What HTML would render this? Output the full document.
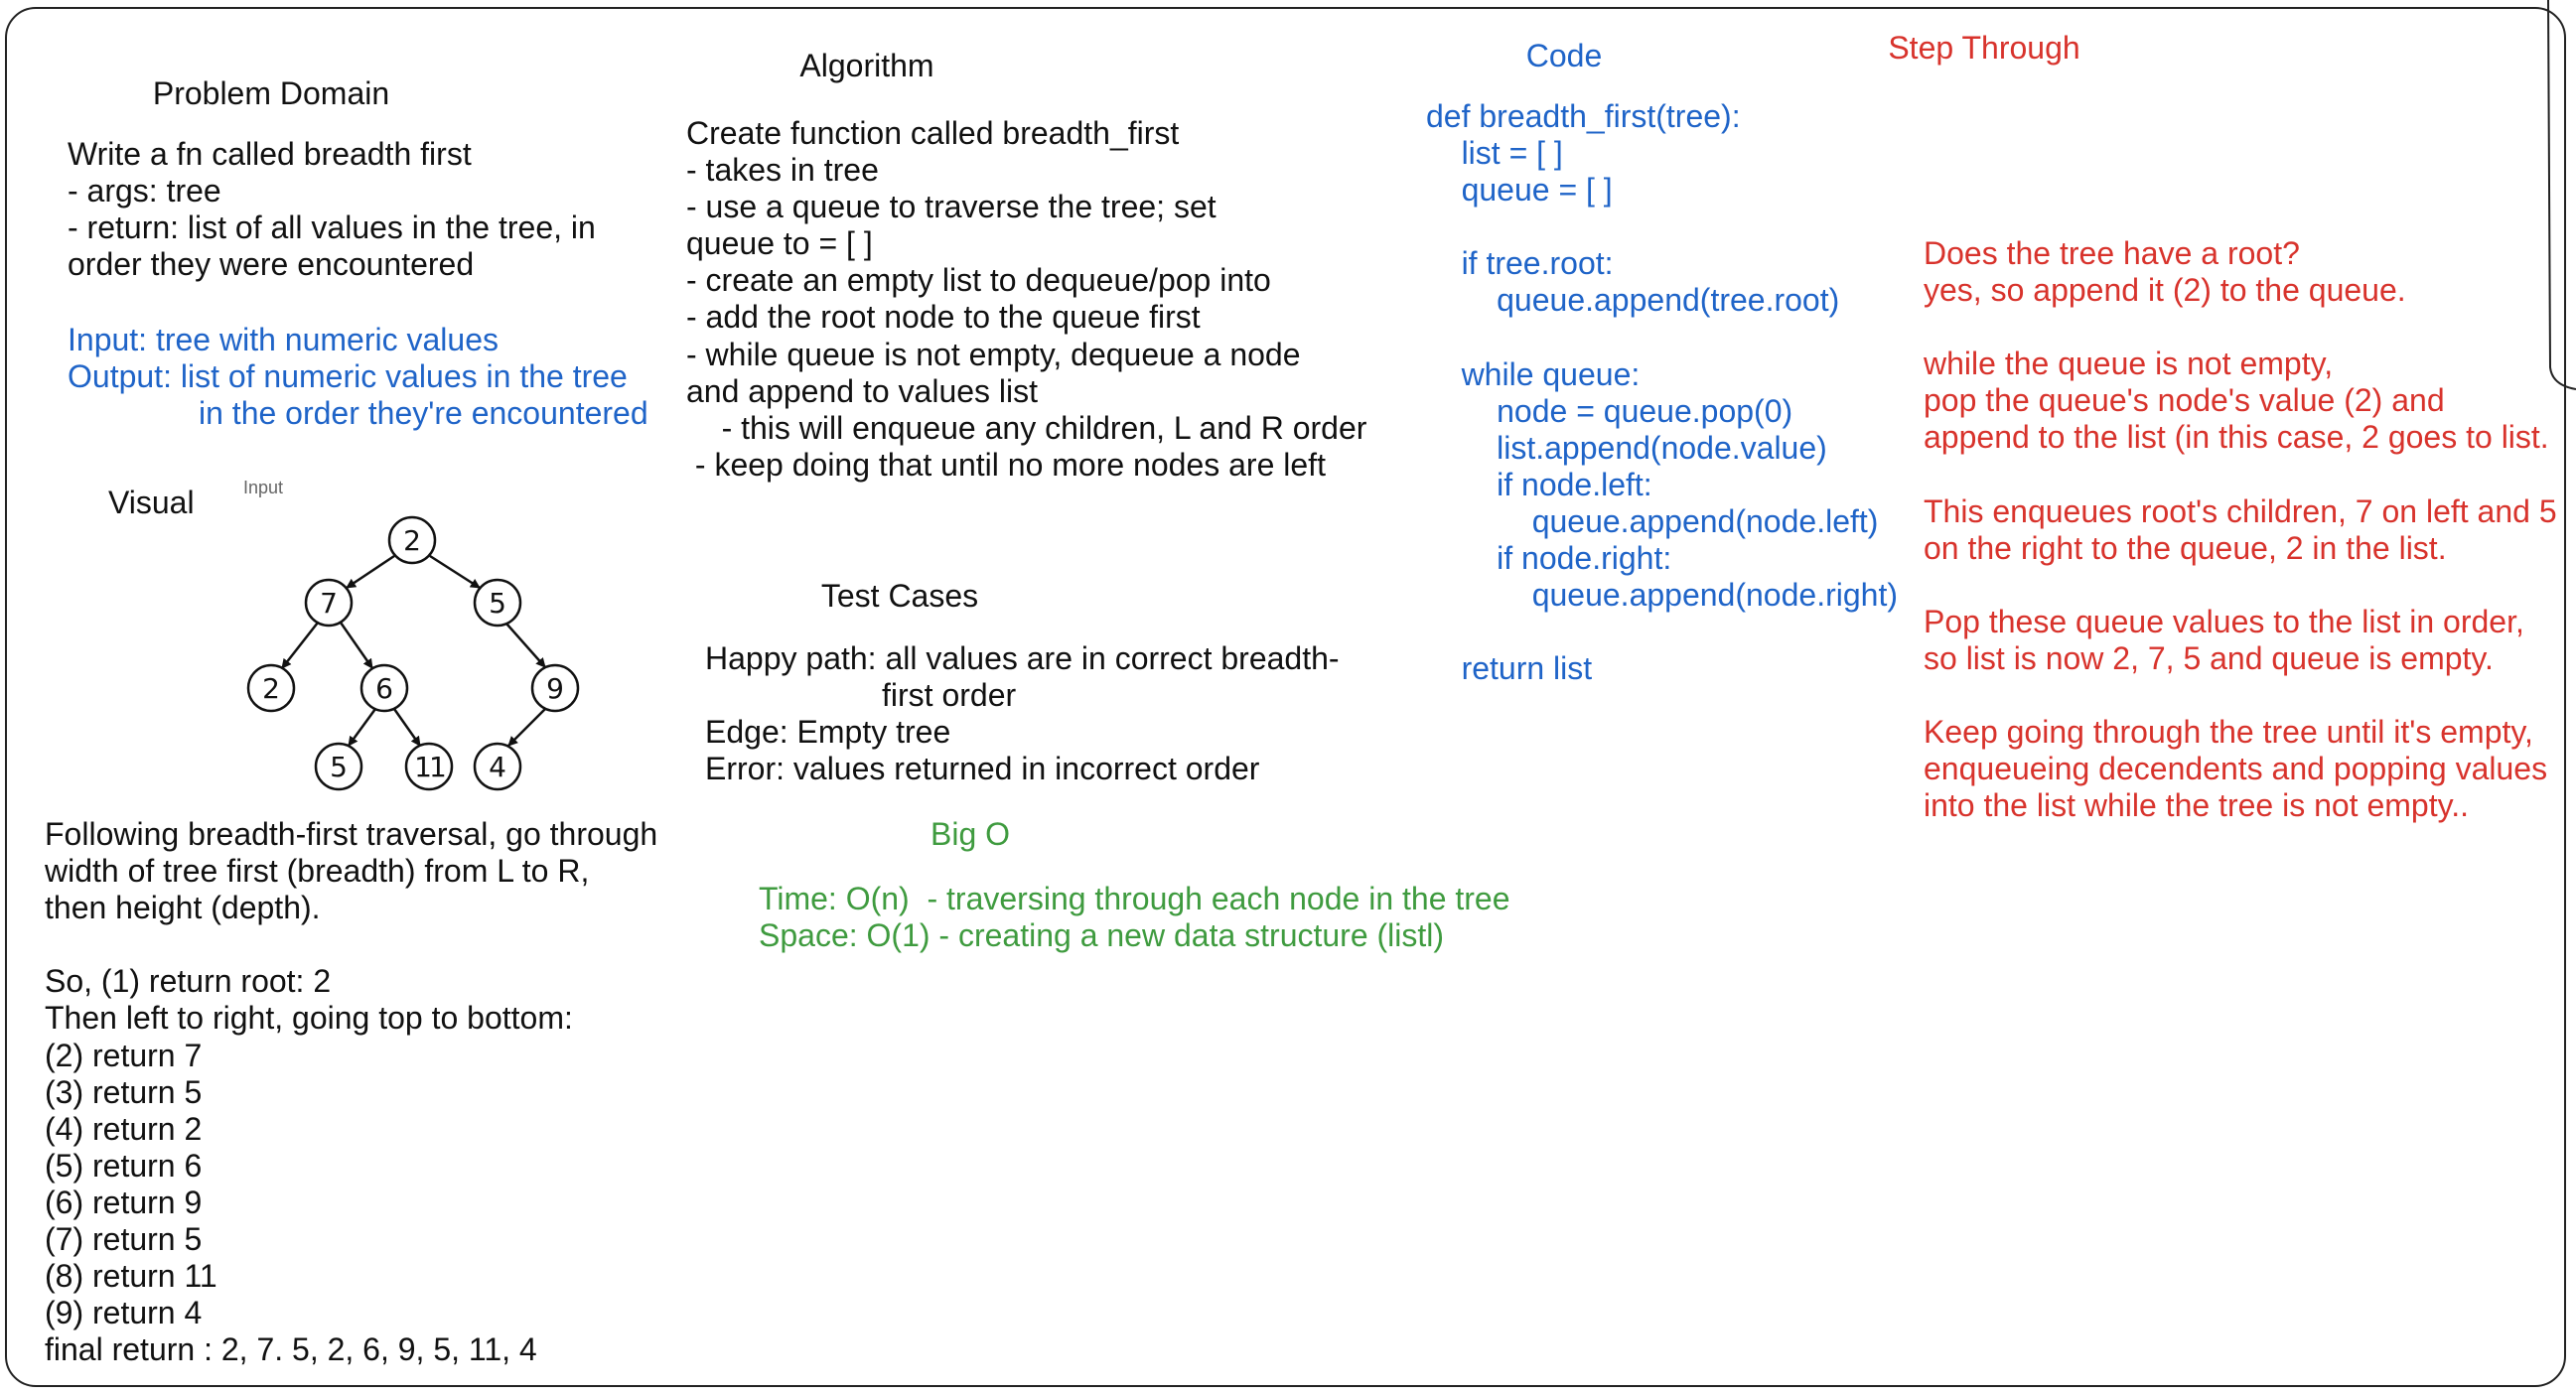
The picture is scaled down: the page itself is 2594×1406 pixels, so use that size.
<!DOCTYPE html>
<html><head><meta charset="utf-8"><style>
html,body{margin:0;padding:0;background:#fff}
body{width:2594px;height:1406px;position:relative;overflow:hidden;font-family:"Liberation Sans",Arial,sans-serif}
.t{position:absolute;font-size:32px;line-height:37.1px;white-space:pre;color:#111}
.c{transform:translateX(-50%)}
.b{color:#1f64c8}.r{color:#d8332c}.g{color:#3f9b3f}
</style></head><body>
<svg width="2594" height="1406" style="position:absolute;left:0;top:0">
<rect x="6" y="8" width="2577" height="1388" rx="30" fill="none" stroke="#222" stroke-width="2"/>
<path d="M2566 0 L2568 370 Q2570 388 2594 392" fill="none" stroke="#222" stroke-width="2"/>
<defs><marker id="a" markerWidth="10" markerHeight="10" refX="9" refY="5" orient="auto" markerUnits="userSpaceOnUse"><path d="M0 0 L10 5 L0 10 z" fill="#111"/></marker></defs>
<g stroke="#111" stroke-width="2.5" marker-end="url(#a)" fill="none">
<line x1="397" y1="560" x2="349" y2="592"/>
<line x1="433" y1="560" x2="483" y2="592"/>
<line x1="320" y1="627" x2="284" y2="673"/>
<line x1="343" y1="627" x2="375" y2="673"/>
<line x1="510" y1="628" x2="549" y2="672"/>
<line x1="378" y1="714" x2="351" y2="751"/>
<line x1="397" y1="714" x2="423" y2="751"/>
<line x1="549" y1="714" x2="512" y2="751"/>
</g>
<g fill="#fff" stroke="#111" stroke-width="2.5">
<circle cx="415" cy="544" r="23"/><circle cx="331" cy="607" r="23"/><circle cx="501" cy="607" r="23"/>
<circle cx="273" cy="693" r="23"/><circle cx="387" cy="693" r="23"/><circle cx="559" cy="693" r="23"/>
<circle cx="341" cy="772" r="23"/><circle cx="432" cy="772" r="23"/><circle cx="501" cy="772" r="23"/>
</g>
<g font-family="DejaVu Sans, sans-serif" font-size="28" text-anchor="middle" fill="#111">
<text x="415" y="554">2</text><text x="331" y="617">7</text><text x="501" y="617">5</text>
<text x="273" y="703">2</text><text x="387" y="703">6</text><text x="559" y="703">9</text>
<text x="341" y="782">5</text><text x="432" y="782" letter-spacing="-3">11</text><text x="501" y="782">4</text>
</g>
</svg>

<div class="t c" style="left:273px;top:76px">Problem Domain</div>
<div class="t" style="left:68px;top:137px">Write a fn called breadth first
- args: tree
- return: list of all values in the tree, in
order they were encountered</div>
<div class="t b" style="left:68px;top:324px">Input: tree with numeric values
Output: list of numeric values in the tree
<span style="padding-left:132px">in the order they're encountered</span></div>
<div class="t" style="left:109px;top:488px">Visual</div>
<div class="t" style="left:245px;top:480px;font-size:18px;line-height:22px;color:#666">Input</div>
<div class="t" style="left:45px;top:822px">Following breadth-first traversal, go through
width of tree first (breadth) from L to R,
then height (depth).

So, (1) return root: 2
Then left to right, going top to bottom:
(2) return 7
(3) return 5
(4) return 2
(5) return 6
(6) return 9
(7) return 5
(8) return 11
(9) return 4
final return : 2, 7. 5, 2, 6, 9, 5, 11, 4</div>

<div class="t c" style="left:873px;top:48px">Algorithm</div>
<div class="t" style="left:691px;top:116px">Create function called breadth_first
- takes in tree
- use a queue to traverse the tree; set
queue to = [ ]
- create an empty list to dequeue/pop into
- add the root node to the queue first
- while queue is not empty, dequeue a node
and append to values list
    - this will enqueue any children, L and R order
 - keep doing that until no more nodes are left</div>
<div class="t c" style="left:906px;top:582px">Test Cases</div>
<div class="t" style="left:710px;top:645px">Happy path: all values are in correct breadth-
<span style="padding-left:178px">first order</span>
Edge: Empty tree
Error: values returned in incorrect order</div>
<div class="t c g" style="left:977px;top:822px">Big O</div>
<div class="t g" style="left:764px;top:887px">Time: O(n)  - traversing through each node in the tree
Space: O(1) - creating a new data structure (listl)</div>

<div class="t c b" style="left:1575px;top:38px">Code</div>
<div class="t b" style="left:1436px;top:99px">def breadth_first(tree):
    list = [ ]
    queue = [ ]

    if tree.root:
        queue.append(tree.root)

    while queue:
        node = queue.pop(0)
        list.append(node.value)
        if node.left:
            queue.append(node.left)
        if node.right:
            queue.append(node.right)

    return list</div>

<div class="t c r" style="left:1998px;top:30px">Step Through</div>
<div class="t r" style="left:1937px;top:237px">Does the tree have a root?
yes, so append it (2) to the queue.

while the queue is not empty,
pop the queue's node's value (2) and
append to the list (in this case, 2 goes to list.

This enqueues root's children, 7 on left and 5
on the right to the queue, 2 in the list.

Pop these queue values to the list in order,
so list is now 2, 7, 5 and queue is empty.

Keep going through the tree until it's empty,
enqueueing decendents and popping values
into the list while the tree is not empty..</div>
</body></html>
